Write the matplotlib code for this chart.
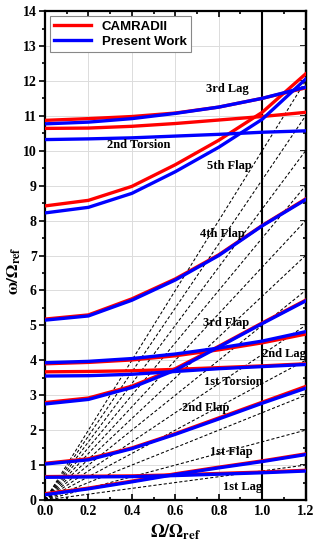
import numpy as np
import matplotlib.pyplot as plt

plt.rcParams['mathtext.fontset'] = 'stix'

# rotor speed points (Omega / Omega_ref)
speed = [0.0, 0.2, 0.4, 0.6, 0.8, 1.0, 1.2]

# CAMRADII frequencies (omega / Omega_ref)
cam_1st_lag = [0.67, 0.68, 0.69, 0.72, 0.76, 0.80, 0.85]
cam_1st_flap = [0.18, 0.34, 0.54, 0.75, 0.94, 1.12, 1.32]
cam_2nd_flap = [1.05, 1.18, 1.49, 1.90, 2.35, 2.80, 3.25]
cam_3rd_flap = [2.79, 2.92, 3.26, 3.76, 4.40, 5.07, 5.72]
cam_1st_tors = [3.67, 3.68, 3.70, 3.74, 3.79, 3.84, 3.90]
cam_2nd_lag = [3.90, 3.94, 4.01, 4.13, 4.30, 4.50, 4.75]
cam_4th_flap = [5.18, 5.30, 5.76, 6.33, 7.02, 7.86, 8.62]
cam_5th_flap = [8.42, 8.58, 8.98, 9.60, 10.30, 11.10, 12.20]
cam_2nd_tors = [10.64, 10.65, 10.70, 10.78, 10.88, 10.98, 11.10]
cam_3rd_lag = [10.87, 10.92, 10.98, 11.08, 11.25, 11.50, 11.80]

# Present Work frequencies
pw_1st_lag = [0.65, 0.66, 0.67, 0.70, 0.74, 0.78, 0.83]
pw_1st_flap = [0.15, 0.32, 0.52, 0.73, 0.92, 1.10, 1.30]
pw_2nd_flap = [1.03, 1.15, 1.47, 1.88, 2.32, 2.77, 3.20]
pw_3rd_flap = [2.75, 2.88, 3.22, 3.72, 4.38, 5.05, 5.70]
pw_1st_tors = [3.55, 3.56, 3.60, 3.68, 3.76, 3.82, 3.88]
pw_2nd_lag = [3.93, 3.97, 4.05, 4.18, 4.35, 4.55, 4.82]
pw_4th_flap = [5.15, 5.27, 5.72, 6.30, 7.00, 7.85, 8.60]
pw_5th_flap = [8.22, 8.38, 8.78, 9.40, 10.10, 10.90, 12.05]
pw_2nd_tors = [10.32, 10.34, 10.37, 10.42, 10.47, 10.53, 10.57]
pw_3rd_lag = [10.77, 10.82, 10.92, 11.07, 11.25, 11.50, 11.82]

# per-rev lines: value reached at the right edge (Omega/Omega_ref = 1.2)
per_rev_end = [1, 2, 3, 4, 5, 6, 7, 8, 9, 10, 11, 12]

mode_labels = ["1st Lag", "1st Flap", "2nd Flap", "1st Torsion", "2nd Lag",
               "3rd Flap", "4th Flap", "5th Flap", "2nd Torsion", "3rd Lag"]
label_pos = [(0.91, 0.37), (0.86, 1.37), (0.74, 2.63), (0.865, 3.39), (1.10, 4.18),
             (0.835, 5.07), (0.815, 7.62), (0.85, 9.56), (0.43, 10.16), (0.84, 11.77)]

cam = [cam_1st_lag, cam_1st_flap, cam_2nd_flap, cam_3rd_flap, cam_1st_tors,
       cam_2nd_lag, cam_4th_flap, cam_5th_flap, cam_2nd_tors, cam_3rd_lag]
pw = [pw_1st_lag, pw_1st_flap, pw_2nd_flap, pw_3rd_flap, pw_1st_tors,
      pw_2nd_lag, pw_4th_flap, pw_5th_flap, pw_2nd_tors, pw_3rd_lag]

serif = "Liberation Serif"

fig = plt.figure(figsize=(3.18, 5.5), dpi=100)
ax = fig.add_axes([0.1415, 0.0909, 0.8195, 0.889])

# per-rev dashed fan
for n in per_rev_end:
    ax.plot([0, speed[-1]], [0, n], ls=(0, (3, 2)), color="black", lw=0.75, zorder=2)

ax.axvline(1.0, color="black", lw=1.5, zorder=3)

for i, ys in enumerate(cam):
    ax.plot(speed, ys, color="#ff0000", lw=2.4, zorder=4,
            label="CAMRADII" if i == 0 else None)
for i, ys in enumerate(pw):
    ax.plot(speed, ys, color="#0000ff", lw=2.4, zorder=5,
            label="Present Work" if i == 0 else None)

for txt, (x, y) in zip(mode_labels, label_pos):
    ax.text(x, y, txt, ha="center", va="center", fontsize=9,
            fontweight="bold", family=serif, zorder=6)

ax.set_xlim(0, 1.2)
ax.set_ylim(0, 14)
ax.set_xticks(np.arange(0, 1.21, 0.2))
ax.set_yticks(range(0, 15))
ax.set_xticks(np.arange(0.1, 1.2, 0.2), minor=True)
ax.set_yticks(np.arange(0.5, 14, 1.0), minor=True)
ax.grid(True, which="major", color="#dcdcdc", lw=0.7, zorder=0)
ax.set_axisbelow(True)

for s in ax.spines.values():
    s.set_linewidth(1.6)

ax.tick_params(axis="x", which="both", direction="in", top=True, width=1.2)
ax.tick_params(axis="y", which="both", direction="out", right=False, width=1.2, pad=2)
ax.tick_params(which="major", length=4)
ax.tick_params(which="minor", length=2.5)

sec = ax.secondary_yaxis("right")
sec.set_yticks(range(0, 15))
sec.set_yticks(np.arange(0.5, 14, 1.0), minor=True)
sec.tick_params(which="both", direction="in", labelright=False, width=1.2)
sec.tick_params(which="major", length=4)
sec.tick_params(which="minor", length=2.5)
sec.spines["right"].set_linewidth(1.6)

ax.set_xticklabels([f"{v:.1f}" for v in np.arange(0, 1.21, 0.2)])
for lab in ax.get_xticklabels() + ax.get_yticklabels():
    lab.set_fontfamily(serif)
    lab.set_fontweight("bold")
    lab.set_fontsize(10)

ax.set_xlabel(r"$\mathbf{\Omega/\Omega_{ref}}$", fontsize=13)
ax.set_ylabel(r"$\mathbf{\omega/\Omega_{ref}}$", fontsize=12.5)
ax.xaxis.set_label_coords(0.5, -0.045)
ax.yaxis.set_label_coords(-0.085, 0.47)

leg = ax.legend(loc="upper left", fancybox=False, edgecolor="#888888",
                prop={"family": "Liberation Sans", "weight": "bold", "size": 9.5},
                handlelength=2.8, borderpad=0.3, labelspacing=0.25,
                borderaxespad=0.4, framealpha=1)
leg.get_frame().set_linewidth(0.8)

plt.savefig("out.png", dpi=100)
